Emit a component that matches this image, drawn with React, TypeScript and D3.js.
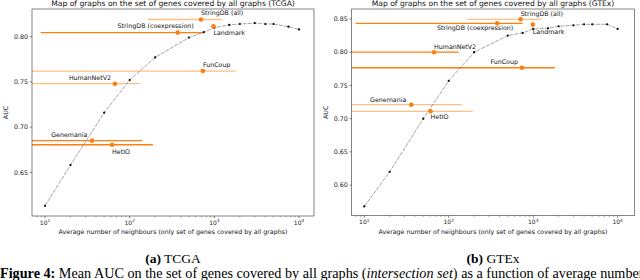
import * as d3 from "d3";
import React from "react";

// average number of neighbours used for the sweep
const neighbours = [10, 20, 50, 100, 200, 500, 750, 1000, 1500, 2000, 3000, 4000, 5000, 7500, 10000];
const aucTCGA = [0.613, 0.658, 0.716, 0.752, 0.777, 0.799, 0.805, 0.81, 0.813, 0.814, 0.815, 0.814, 0.814, 0.811, 0.808];
const aucGTEx = [0.568, 0.62, 0.7, 0.757, 0.8, 0.825, 0.829, 0.835, 0.836, 0.839, 0.8405, 0.842, 0.842, 0.842, 0.835];

// reference graphs
const graphNames = ["StringDB (all)", "StringDB (coexpression)", "Landmark", "FunCoup", "HumanNetV2", "Genemania", "HetIO"];
const graphNbTCGA = [695, 369, 975, 733, 67, 36, 62];
const graphAucTCGA = [0.819, 0.8045, 0.8115, 0.762, 0.748, 0.685, 0.6805];
const graphLoTCGA = [163, 8.9, 975, 3, 3, 3, 3];
const graphHiTCGA = [1220, 753, 975, 1800, 133, 140, 188];

const graphNbGTEx = [710, 375, 990, 735, 67, 36, 61];
const graphAucGTEx = [0.8495, 0.8434, 0.8415, 0.7766, 0.8, 0.721, 0.711];
const graphLoGTEx = [164, 7.9, 990, 3, 3, 3, 3];
const graphHiGTEx = [1257, 750, 990, 1806, 131, 143, 192];

const yTicksTCGA = [0.65, 0.7, 0.75, 0.8];
const yTicksGTEx = [0.6, 0.65, 0.7, 0.75, 0.8, 0.85];
const xTicks = [10, 100, 1000, 10000];

// styles
const orange = "#ff7f0e";
const orangeLight = "#ffbf86";
const lightTCGA = [true, false, false, true, true, false, false];
const lightGTEx = [true, false, false, false, false, true, true];
// label offsets [dx, dy, anchor]
const labelPosTCGA: [number, number, string][] = [
  [0, -6.6, "start"], [16, -7, "end"], [0, 7, "start"], [0, -6.7, "start"],
  [-4, -6.4, "end"], [-4.7, -5.5, "end"], [0, 7.4, "start"],
];
const labelPosGTEx: [number, number, string][] = [
  [0, -5.3, "start"], [16, 4, "end"], [0, 7.6, "start"], [-4, -6.4, "end"],
  [0, -5.6, "start"], [-5, -5, "end"], [0, 5, "start"],
];

const font = "DejaVu Sans";

function Panel(props: any) {
  const { left, right, top, bottom, xDomain, yDomain, title, auc, nb, gAuc, lo, hi, light, labelPos, yTicks } = props;
  const x = d3.scaleLog().domain(xDomain).range([left, right]);
  const y = d3.scaleLinear().domain(yDomain).range([bottom, top]);
  const line = d3.line<number>().x((_, i) => x(neighbours[i])).y((d) => y(d));
  const minor: number[] = [];
  for (let e = 0; e <= 4; e++)
    for (let m = 1; m < 10; m++) {
      const v = m * Math.pow(10, e);
      if (m > 1 && v >= xDomain[0] && v <= xDomain[1]) minor.push(v);
    }
  const cx = (left + right) / 2;
  const clipId = "clip" + Math.round(left);
  return (
    <g fontFamily={font}>
      <defs>
        <clipPath id={clipId}>
          <rect x={left} y={top} width={right - left} height={bottom - top} />
        </clipPath>
      </defs>
      <text x={cx} y={6} textAnchor="middle" fontSize={7.6} fill="#111">{title}</text>
      <g clipPath={`url(#${clipId})`}>
        {graphNames.map((n, i) => (
          <line key={"e" + n} x1={x(lo[i])} x2={x(hi[i])} y1={y(gAuc[i])} y2={y(gAuc[i])}
            stroke={light[i] ? orangeLight : orange} strokeWidth={1.3} />
        ))}
        <path d={line(auc) || ""} fill="none" stroke="#666" strokeWidth={0.6} strokeDasharray="4,1.2" />
        {auc.map((d: number, i: number) => (
          <circle key={"p" + i} cx={x(neighbours[i])} cy={y(d)} r={1.1} fill="#000" />
        ))}
        {graphNames.map((n, i) => (
          <circle key={"g" + n} cx={x(nb[i])} cy={y(gAuc[i])} r={2.3} fill={orange} />
        ))}
      </g>
      {graphNames.map((n, i) => (
        <text key={"l" + n} x={x(nb[i]) + labelPos[i][0]} y={y(gAuc[i]) + labelPos[i][1]} dy="0.35em"
          textAnchor={labelPos[i][2]} fontSize={6.3} fill="#111">{n}</text>
      ))}
      <rect x={left} y={top} width={right - left} height={bottom - top} fill="none" stroke="#333" strokeWidth={0.6} />
      {yTicks.map((t: number) => (
        <g key={"y" + t}>
          <line x1={left - 2.2} x2={left} y1={y(t)} y2={y(t)} stroke="#333" strokeWidth={0.6} />
          <text x={left - 4} y={y(t)} dy="0.35em" textAnchor="end" fontSize={6.3} fill="#222">{d3.format(".2f")(t)}</text>
        </g>
      ))}
      {minor.map((t) => (
        <line key={"m" + t} x1={x(t)} x2={x(t)} y1={bottom} y2={bottom + 1.3} stroke="#333" strokeWidth={0.4} />
      ))}
      {xTicks.map((t) => (
        <g key={"x" + t}>
          <line x1={x(t)} x2={x(t)} y1={bottom} y2={bottom + 2.2} stroke="#333" strokeWidth={0.6} />
          <text x={x(t)} y={bottom + 8.5} textAnchor="middle" fontSize={6} fill="#222">
            10<tspan dy={-2.6} fontSize={4.3}>{Math.round(Math.log10(t))}</tspan>
          </text>
        </g>
      ))}
      <text x={cx} y={bottom + 18} textAnchor="middle" fontSize={6.3} fill="#111">
        Average number of neighbours (only set of genes covered by all graphs)
      </text>
      <text transform={`translate(${left - 24},${(top + bottom) / 2}) rotate(-90)`} textAnchor="middle" fontSize={6.3} fill="#111">AUC</text>
    </g>
  );
}

export default function App() {
  return (
    <svg width={640} height={280} style={{ position: "absolute", left: 0, top: 0, background: "#fff" }}>
      <Panel left={32} right={314} top={9} bottom={216} xDomain={[7.02, 15030]} yDomain={[0.6017, 0.8306]}
        title="Map of graphs on the set of genes covered by all graphs (TCGA)" auc={aucTCGA}
        nb={graphNbTCGA} gAuc={graphAucTCGA} lo={graphLoTCGA} hi={graphHiTCGA} light={lightTCGA}
        labelPos={labelPosTCGA} yTicks={yTicksTCGA} />
      <Panel left={351.7} right={634.3} top={9} bottom={215.7} xDomain={[7.1, 15740]} yDomain={[0.554, 0.865]}
        title="Map of graphs on the set of genes covered by all graphs (GTEx)" auc={aucGTEx}
        nb={graphNbGTEx} gAuc={graphAucGTEx} lo={graphLoGTEx} hi={graphHiGTEx} light={lightGTEx}
        labelPos={labelPosGTEx} yTicks={yTicksGTEx} />
      <g fontFamily="Liberation Serif" fill="#000">
        <text x={173} y={263} textAnchor="middle" fontSize={13.5}><tspan fontWeight="bold">(a)</tspan> TCGA</text>
        <text x={493} y={263} textAnchor="middle" fontSize={13.5}><tspan fontWeight="bold">(b)</tspan> GTEx</text>
        <text x={0} y={278} fontSize={14.2}>
          <tspan fontWeight="bold">Figure 4:</tspan> Mean AUC on the set of genes covered by all graphs (<tspan fontStyle="italic">intersection set</tspan>) as a function of average number
        </text>
      </g>
    </svg>
  );
}
